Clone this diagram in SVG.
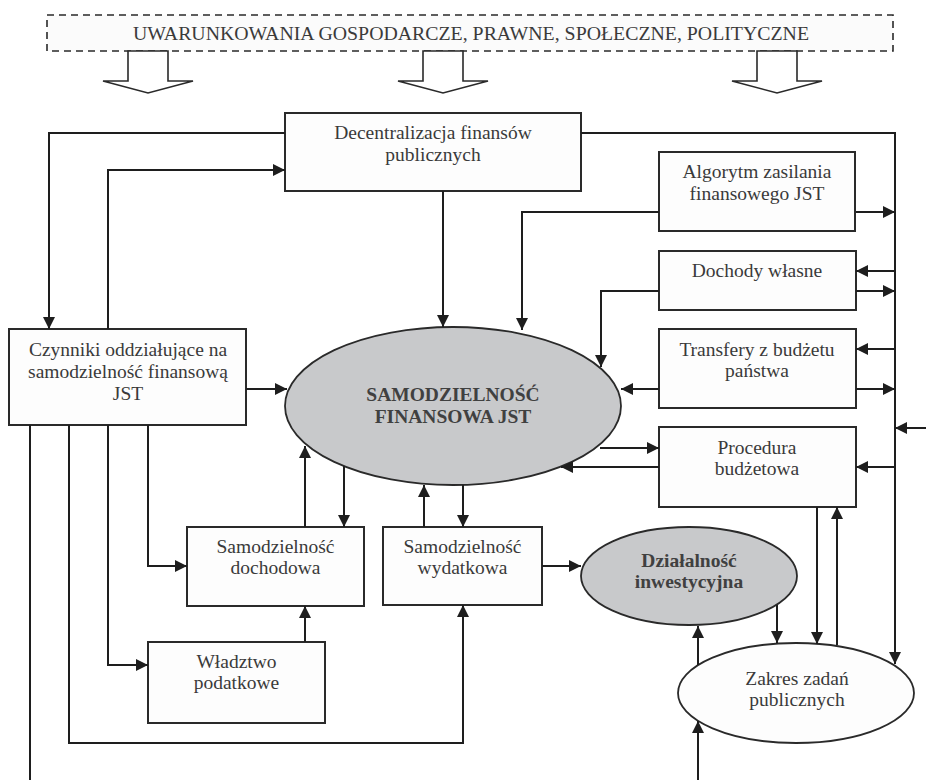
<svg xmlns="http://www.w3.org/2000/svg" width="926" height="780" viewBox="0 0 926 780">
<defs>
<marker id="ah" markerWidth="13" markerHeight="13" refX="12" refY="6" orient="auto" markerUnits="userSpaceOnUse">
<path d="M0,0 L12,6 L0,12 z" fill="#1e1e1e"/>
</marker>
<style>
.box{fill:#fdfdfd;stroke:#2a2a2a;stroke-width:2}
.ell{stroke:#2a2a2a;stroke-width:1.8}
.gray{fill:#c8c9cb}
.white{fill:#fdfdfd}
.t{font-family:"Liberation Serif","Times New Roman",serif;font-size:19.5px;fill:#3a3a3a;text-anchor:middle}
.b{font-weight:bold;fill:#404040}
.c{fill:none;stroke:#1e1e1e;stroke-width:2;marker-end:url(#ah)}
.l{fill:none;stroke:#1e1e1e;stroke-width:2}
.blk{fill:#ffffff;stroke:#2a2a2a;stroke-width:1.6;stroke-linejoin:miter}
</style>
</defs>
<rect width="926" height="780" fill="#ffffff"/>

<g id="banner">
<rect x="47" y="15" width="846" height="36" fill="#fbfbfb" stroke="#2a2a2a" stroke-width="1.6" stroke-dasharray="7,5"/>
<text class="t" x="471" y="40" textLength="676" lengthAdjust="spacingAndGlyphs">UWARUNKOWANIA GOSPODARCZE, PRAWNE, SPOŁECZNE, POLITYCZNE</text>
</g>
<g id="block-arrows">
<polygon class="blk" points="128,51 128,81 103,81 148,93 193,81 168,81 168,51"/>
<polygon class="blk" points="423,51 423,81 398,81 443,93 488,81 463,81 463,51"/>
<polygon class="blk" points="757,51 757,81 732,81 777,93 822,81 797,81 797,51"/>
</g>

<g id="decentralizacja">
<rect class="box" x="285" y="113" width="296" height="78"/>
<text class="t" x="433" y="139">Decentralizacja finansów</text>
<text class="t" x="433" y="161">publicznych</text>
</g>
<g id="czynniki">
<rect class="box" x="9" y="329" width="237" height="96"/>
<text class="t" x="128" y="356">Czynniki oddziałujące na</text>
<text class="t" x="128" y="378">samodzielność finansową</text>
<text class="t" x="128" y="400">JST</text>
</g>
<g id="samodzielnosc">
<ellipse class="ell gray" cx="453" cy="406" rx="168" ry="79"/>
<text class="t b" x="453" y="401">SAMODZIELNOŚĆ</text>
<text class="t b" x="453" y="423">FINANSOWA JST</text>
</g>
<g id="algorytm">
<rect class="box" x="659" y="152" width="196" height="79"/>
<text class="t" x="757" y="178">Algorytm zasilania</text>
<text class="t" x="757" y="200">finansowego JST</text>
</g>
<g id="dochody">
<rect class="box" x="659" y="251" width="197" height="59"/>
<text class="t" x="757" y="277">Dochody własne</text>
</g>
<g id="transfery">
<rect class="box" x="659" y="329" width="197" height="79"/>
<text class="t" x="757" y="356">Transfery z budżetu</text>
<text class="t" x="757" y="377">państwa</text>
</g>
<g id="procedura">
<rect class="box" x="659" y="427" width="197" height="80"/>
<text class="t" x="757" y="454">Procedura</text>
<text class="t" x="757" y="475">budżetowa</text>
</g>
<g id="dochodowa">
<rect class="box" x="187" y="527" width="177" height="79"/>
<text class="t" x="275.5" y="553">Samodzielność</text>
<text class="t" x="275.5" y="574">dochodowa</text>
</g>
<g id="wydatkowa">
<rect class="box" x="383" y="527" width="159" height="78"/>
<text class="t" x="462.5" y="553">Samodzielność</text>
<text class="t" x="462.5" y="574">wydatkowa</text>
</g>
<g id="wladztwo">
<rect class="box" x="148" y="642" width="177" height="81"/>
<text class="t" x="236.5" y="668">Władztwo</text>
<text class="t" x="236.5" y="689">podatkowe</text>
</g>
<g id="dzialalnosc">
<ellipse class="ell gray" cx="689" cy="576" rx="108" ry="49"/>
<text class="t b" x="689" y="567">Działalność</text>
<text class="t b" x="689" y="588">inwestycyjna</text>
</g>
<g id="zakres">
<ellipse class="ell white" cx="796" cy="693" rx="118" ry="50"/>
<text class="t" x="797" y="685">Zakres zadań</text>
<text class="t" x="797" y="706">publicznych</text>
</g>

<g id="connectors">
<path class="c" d="M285,133 H49 V329"/>
<path class="c" d="M108,329 V170 H285"/>
<path class="c" d="M443,191 V327"/>
<path class="c" d="M581,133 H895 V664"/>
<path class="c" d="M856,212 H895"/>
<path class="c" d="M659,212 H522 V330"/>
<path class="c" d="M895,271 H856"/>
<path class="c" d="M856,291 H895"/>
<path class="c" d="M659,291 H601 V367"/>
<path class="c" d="M895,349 H856"/>
<path class="c" d="M856,389 H895"/>
<path class="c" d="M659,389 H621"/>
<path class="c" d="M926,428 H895"/>
<path class="c" d="M895,467 H856"/>
<path class="c" d="M600,448 H659"/>
<path class="c" d="M659,467 H561"/>
<path class="c" d="M817,507 V644"/>
<path class="c" d="M837,645 V507"/>
<path class="c" d="M777,605 V643"/>
<path class="c" d="M698,665 V626"/>
<path class="c" d="M698,780 V721"/>
<path class="c" d="M542,566 H581"/>
<path class="c" d="M424,527 V485"/>
<path class="c" d="M463,485 V527"/>
<path class="c" d="M69,425 V743 H463 V605"/>
<path class="c" d="M305,527 V446"/>
<path class="c" d="M344,466 V527"/>
<path class="c" d="M305,642 V606"/>
<path class="c" d="M148,425 V566 H187"/>
<path class="c" d="M108,425 V665 H148"/>
<path class="l" d="M30,425 V780"/>
<path class="c" d="M246,389 H287"/>
</g>
</svg>
